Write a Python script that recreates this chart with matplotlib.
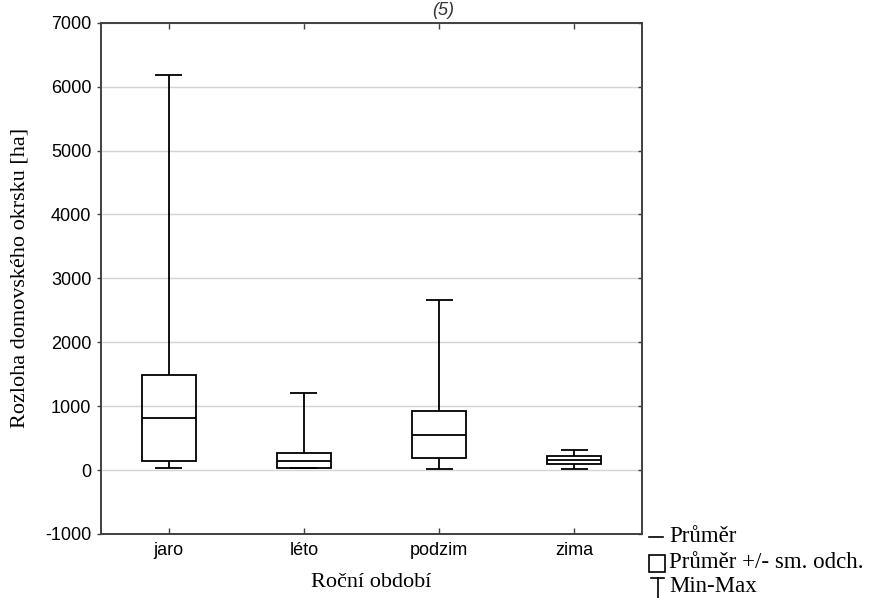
import matplotlib
matplotlib.use("Agg")
import matplotlib.pyplot as plt
from matplotlib.patches import Rectangle
from matplotlib.lines import Line2D

# data (ha)
seasons = ["jaro", "léto", "podzim", "zima"]
means = [820, 150, 550, 160]
sd_low = [150, 40, 195, 100]
sd_high = [1480, 260, 920, 220]
mins = [37, 25, 15, 15]
maxs = [6180, 1210, 2660, 320]

W, H = 870, 598
fig = plt.figure(figsize=(W / 100, H / 100), dpi=100)
ax = fig.add_axes([101 / W, 1 - 534 / H, (642 - 101) / W, (534 - 22.7) / H])

serif = ["Liberation Serif", "DejaVu Serif"]
sans = ["Liberation Sans", "DejaVu Sans"]

pos = list(range(1, len(seasons) + 1))
bw = 0.40
cw = 0.20
lc = "black"
lw = 1.3

for p, m, lo, hi, mn, mx in zip(pos, means, sd_low, sd_high, mins, maxs):
    ax.add_patch(Rectangle((p - bw / 2, lo), bw, hi - lo, fill=False,
                           edgecolor=lc, linewidth=lw, zorder=3))
    ax.hlines(m, p - bw / 2, p + bw / 2, color=lc, linewidth=lw, zorder=3)
    ax.vlines(p, hi, mx, color=lc, linewidth=lw, zorder=3)
    ax.vlines(p, mn, lo, color=lc, linewidth=lw, zorder=3)
    ax.hlines([mn, mx], p - cw / 2, p + cw / 2, color=lc, linewidth=lw, zorder=3)

ax.set_xlim(0.5, 4.5)
ax.set_ylim(-1000, 7000)
ax.set_xticks(pos)
ax.set_xticklabels(seasons, family=sans, fontsize=13)
ax.set_yticks(range(-1000, 7001, 1000))
ax.set_yticklabels([str(v) for v in range(-1000, 7001, 1000)], family=sans, fontsize=13)
ax.tick_params(axis="y", direction="out", length=3, width=1, color="#404040", pad=4,
               right=True)
ax.tick_params(axis="y", which="both", labelright=False)
ax.tick_params(axis="x", direction="in", length=4, width=1, color="#404040", top=True, pad=6)
# right ticks point inward
for t in ax.yaxis.get_major_ticks():
    t.tick2line.set_marker(matplotlib.markers.TICKLEFT)
    t.tick2line.set_markersize(3)

ax.grid(axis="y", color="#d4d4d4", linewidth=1)
ax.set_axisbelow(True)
for s in ax.spines.values():
    s.set_color("#404040")
    s.set_linewidth(1.4)

ax.set_xlabel("Roční období", family=serif, fontsize=16, labelpad=10)
ax.set_ylabel("Rozloha domovského okrsku [ha]", family=serif, fontsize=16, labelpad=11)

fig.text(443 / W, 1 - 2 / H, "(5)", family=sans, style="italic", fontsize=13,
         ha="center", va="top", color="#333333")


# legend drawn in figure pixels
def fx(x):
    return x / W


def fy(y):
    return 1 - y / H


fig.add_artist(Line2D([fx(649), fx(663)], [fy(537), fy(537)], color=lc, linewidth=1.2))
fig.add_artist(Rectangle((fx(649), fy(572)), (665 - 649) / W, (572 - 555) / H,
                         fill=False, edgecolor=lc, linewidth=1.2, transform=fig.transFigure))
fig.add_artist(Line2D([fx(651), fx(664)], [fy(578), fy(578)], color=lc, linewidth=1.2))
fig.add_artist(Line2D([fx(657.5), fx(657.5)], [fy(578), fy(600)], color=lc, linewidth=1.2))
leg_labels = ["Průměr", "Průměr +/- sm. odch."]
leg_labels.append("Min-Max")
for lab, yy in zip(leg_labels, [537, 562, 586]):
    fig.text(fx(669), fy(yy), lab, family=serif, fontsize=16.5, va="center", ha="left")

fig.savefig("out.png", dpi=100)
